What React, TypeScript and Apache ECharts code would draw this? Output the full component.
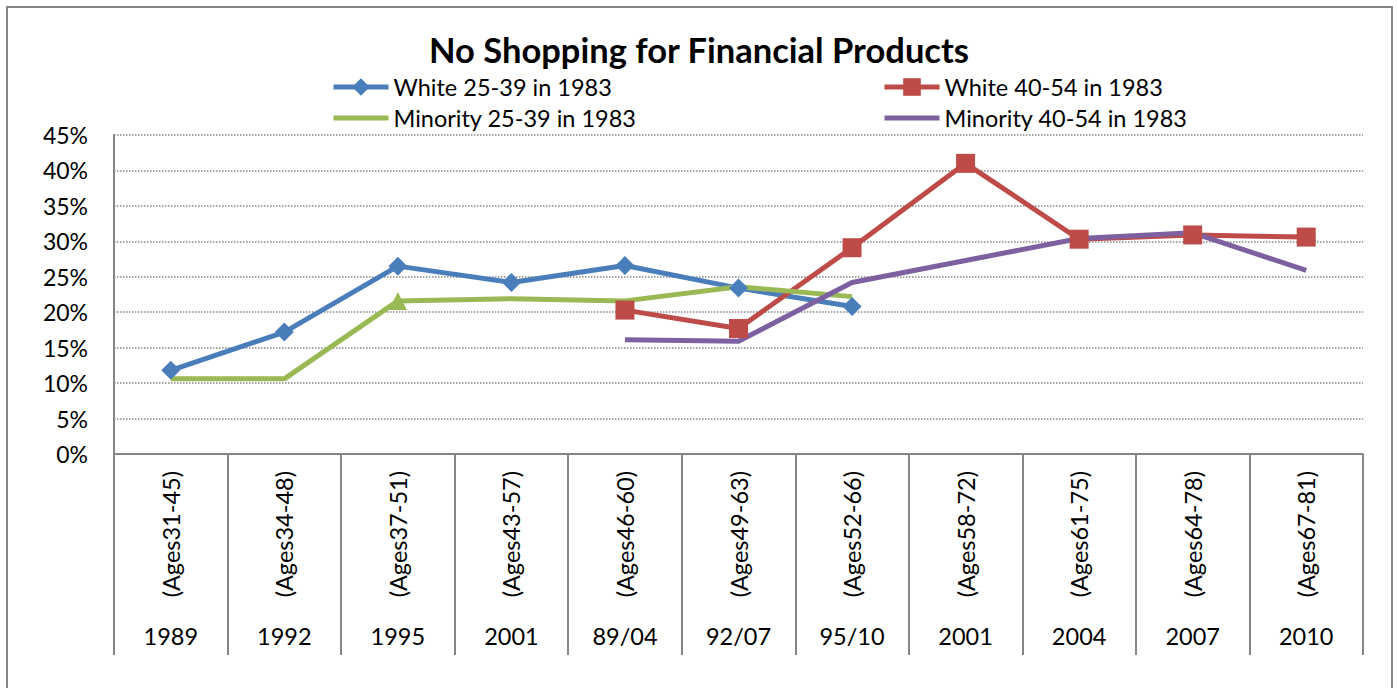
import React, { useEffect, useRef } from "react";
import * as echarts from "echarts";

const ageLabels = [
  "(Ages31-45)", "(Ages34-48)", "(Ages37-51)", "(Ages43-57)", "(Ages46-60)", "(Ages49-63)",
  "(Ages52-66)", "(Ages58-72)", "(Ages61-75)", "(Ages64-78)", "(Ages67-81)",
];
const yearLabels = ["1989", "1992", "1995", "2001", "89/04", "92/07", "95/10", "2001", "2004", "2007", "2010"];

const white2539 = [11.8, 17.2, 26.5, 24.2, 26.6, 23.4, 20.8, null, null, null, null];
const white4054 = [null, null, null, null, 20.3, 17.7, 29.1, 41.0, 30.3, 30.9, 30.6];
const minority2539 = [10.6, 10.6, 21.6, 21.9, 21.6, 23.6, 22.2, null, null, null, null];
const minority4054 = [null, null, null, null, 16.1, 15.9, 24.2, 27.3, 30.4, 31.2, 25.9];

const seriesNames = ["White 25-39 in 1983", "White 40-54 in 1983", "Minority 25-39 in 1983", "Minority 40-54 in 1983"];

const FONT = "Lato";
const GRAY = "#868686";

export default function App() {
  const ref = useRef<HTMLDivElement>(null);
  useEffect(() => {
    if (!ref.current) return;
    const chart = echarts.init(ref.current, null, { renderer: "svg" });
    const greenData = minority2539.map((v, i) =>
      i === 2 ? { value: v, symbol: "triangle", symbolSize: 18 } : v
    );
    const legendBase = {
      orient: "vertical",
      top: 75,
      padding: 0,
      itemWidth: 55,
      itemHeight: 22,
      itemGap: 7,
      lineStyle: { width: 5 },
      textStyle: { fontFamily: FONT, fontSize: 23.5, color: "#000" },
    };
    chart.setOption({
      animation: false,
      backgroundColor: "#fff",
      textStyle: { fontFamily: FONT, color: "#000" },
      title: {
        text: "No Shopping for Financial Products",
        left: "center",
        top: 27,
        textStyle: { fontFamily: FONT, fontSize: 34.5, fontWeight: "bold", color: "#000" },
      },
      legend: [
        {
          ...legendBase,
          left: 331,
          data: [
            { name: seriesNames[0] },
            { name: seriesNames[2], itemStyle: { opacity: 0 } },
          ],
        },
        {
          ...legendBase,
          left: 882,
          data: [
            { name: seriesNames[1] },
            { name: seriesNames[3], itemStyle: { opacity: 0 } },
          ],
        },
      ],
      graphic: [
        {
          type: "rect",
          shape: { x: 7, y: 7, width: 1385, height: 700 },
          style: { fill: "none", stroke: GRAY, lineWidth: 2 },
          silent: true,
        },
      ],
      grid: { left: 114, right: 35, top: 135, bottom: 234 },
      xAxis: [
        {
          type: "category",
          data: ageLabels,
          boundaryGap: true,
          axisLine: { lineStyle: { color: GRAY, width: 2 } },
          axisTick: { show: true, length: 201, lineStyle: { color: GRAY, width: 2 } },
          axisLabel: { rotate: 90, margin: 17, fontFamily: FONT, fontSize: 23.5, color: "#000", interval: 0 },
        },
        {
          type: "category",
          data: yearLabels,
          position: "bottom",
          offset: 170,
          boundaryGap: true,
          axisLine: { show: false },
          axisTick: { show: false },
          axisLabel: { margin: 0, fontFamily: FONT, fontSize: 23.5, color: "#000", interval: 0 },
        },
      ],
      yAxis: {
        type: "value",
        min: 0,
        max: 45,
        interval: 5,
        axisLine: { show: true, lineStyle: { color: GRAY, width: 2 } },
        axisTick: { show: false },
        axisLabel: { formatter: "{value}%", margin: 26, fontFamily: FONT, fontSize: 23, color: "#000" },
        splitLine: { show: true, lineStyle: { color: GRAY, type: "dotted", width: 1.5 } },
      },
      series: [
        {
          name: seriesNames[0],
          type: "line",
          data: white2539,
          symbol: "diamond",
          symbolSize: 19,
          color: "#4A7EBB",
          lineStyle: { width: 5, color: "#4A7EBB" },
          itemStyle: { color: "#4A7EBB" },
        },
        {
          name: seriesNames[1],
          type: "line",
          data: white4054,
          symbol: "rect",
          symbolSize: 19,
          color: "#BE4B48",
          lineStyle: { width: 5, color: "#BE4B48" },
          itemStyle: { color: "#BE4B48" },
        },
        {
          name: seriesNames[2],
          type: "line",
          data: greenData,
          symbol: "none",
          color: "#98B954",
          lineStyle: { width: 5, color: "#98B954" },
          itemStyle: { color: "#98B954" },
        },
        {
          name: seriesNames[3],
          type: "line",
          data: minority4054,
          symbol: "none",
          color: "#7D60A0",
          lineStyle: { width: 5, color: "#7D60A0" },
          itemStyle: { color: "#7D60A0" },
        },
      ],
    });
    return () => chart.dispose();
  }, []);
  return (
    <div
      ref={ref}
      style={{ position: "fixed", left: 0, top: 0, width: 1398, height: 688, background: "#fff" }}
    />
  );
}
